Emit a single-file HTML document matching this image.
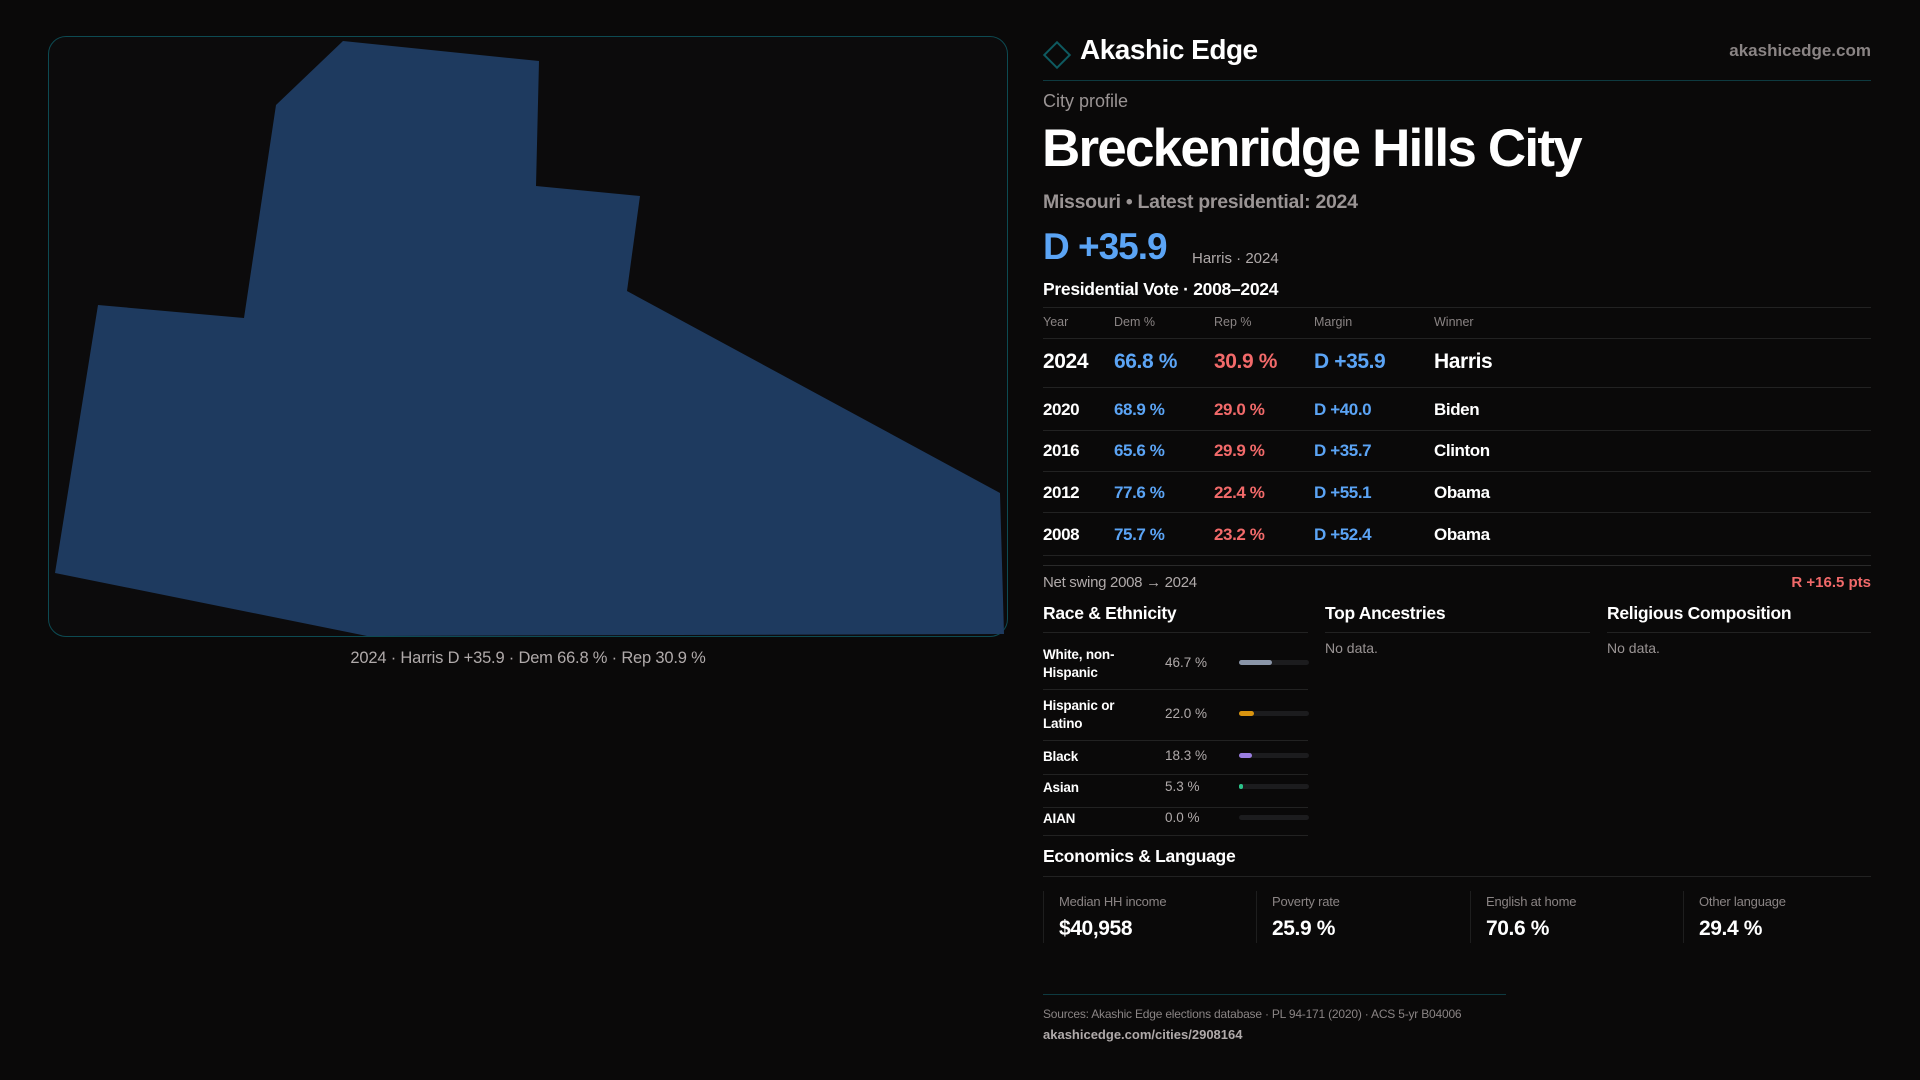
<!DOCTYPE html>
<html><head><meta charset="utf-8"><style>
*{margin:0;padding:0;box-sizing:border-box}
body{width:1920px;height:1080px;background:#0a0909;color:#fff;font-family:"Liberation Sans",sans-serif;position:relative;overflow:hidden}
.a{position:absolute;white-space:nowrap}
.g{color:#9a9494}.b{color:#5ba4f5}.r{color:#f26a6a}
.hl{position:absolute;height:1px;background:#222}
</style></head><body>
<div class="a" style="left:48px;top:36px;width:960px;height:601px;border:1px solid #0d4a52;border-radius:18px;background:#0c0b0c;overflow:hidden"></div>
<svg class="a" style="left:0;top:0" width="1010" height="640">
<polygon fill="#1e3a5f" points="343,41 539,61 536,186 640,196 627,291 1000,493 1004,634 367,636 55,573 98,305 244,318 276,105"/></svg>
<div class="a g" style="left:0;width:1056px;text-align:center;top:649px;font-size:16.5px;color:#b0aaaa;letter-spacing:-0.2px">2024 · Harris D +35.9 · Dem 66.8 % · Rep 30.9 %</div>

<div class="a" style="left:1047px;top:45px;width:20px;height:20px;border:2px solid #0e5a60;transform:rotate(45deg)"></div>
<div class="a" style="left:1080px;top:34px;font-size:28px;font-weight:bold;letter-spacing:-0.5px">Akashic Edge</div>
<div class="a g" style="right:49px;top:41px;font-size:17px;font-weight:bold;color:#8a8484">akashicedge.com</div>
<div class="hl" style="left:1043px;width:828px;top:80px;background:#0e3a40"></div>
<div class="a g" style="left:1043px;top:91px;font-size:18px">City profile</div>
<div class="a" style="left:1042px;top:118px;font-size:53px;font-weight:bold;letter-spacing:-1.8px">Breckenridge Hills City</div>
<div class="a g" style="left:1043px;top:191px;font-size:19.5px;font-weight:bold;letter-spacing:-0.3px">Missouri • Latest presidential: 2024</div>
<div class="a b" style="left:1043px;top:226px;font-size:37px;font-weight:bold;letter-spacing:-1px">D +35.9</div>
<div class="a g" style="left:1192px;top:250px;font-size:15px;color:#b0aaaa">Harris · 2024</div>
<div class="a" style="left:1043px;top:279px;font-size:17.5px;font-weight:bold;letter-spacing:-0.3px">Presidential Vote · 2008–2024</div>
<div class="hl" style="left:1043px;width:828px;top:307px"></div>
<div id="tbl"></div>
<div class="hl" style="left:1043px;width:828px;top:565px;background:#2a2a2a"></div>
<div class="a g" style="left:1043px;top:574px;font-size:15px;color:#b0aaaa;letter-spacing:-0.3px">Net swing 2008 → 2024</div>
<div class="a r" style="right:49px;top:574px;font-size:15px;font-weight:bold">R +16.5 pts</div>

<div class="a" style="left:1043px;top:603px;font-size:17.5px;font-weight:bold;letter-spacing:-0.3px">Race &amp; Ethnicity</div>
<div class="a" style="left:1325px;top:603px;font-size:17.5px;font-weight:bold;letter-spacing:-0.3px">Top Ancestries</div>
<div class="a" style="left:1607px;top:603px;font-size:17.5px;font-weight:bold;letter-spacing:-0.3px">Religious Composition</div>
<div class="hl" style="left:1043px;width:265px;top:632px"></div>
<div class="hl" style="left:1325px;width:265px;top:632px"></div>
<div class="hl" style="left:1607px;width:264px;top:632px"></div>
<div class="a g" style="left:1325px;top:640px;font-size:14px">No data.</div>
<div class="a g" style="left:1607px;top:640px;font-size:14px">No data.</div>
<div id="race"></div>

<div class="a" style="left:1043px;top:846px;font-size:17.5px;font-weight:bold;letter-spacing:-0.3px">Economics &amp; Language</div>
<div class="hl" style="left:1043px;width:828px;top:876px"></div>
<div id="stats"></div>
<div class="hl" style="left:1043px;width:463px;top:994px;background:#0e3a40"></div>
<div class="a g" style="left:1043px;top:1007px;font-size:12px;color:#8a8484;letter-spacing:-0.2px">Sources: Akashic Edge elections database · PL 94-171 (2020) · ACS 5-yr B04006</div>
<div class="a" style="left:1043px;top:1027px;font-size:13px;font-weight:bold;color:#b0aaaa">akashicedge.com/cities/2908164</div>
<script>
const years=["2024","2020","2016","2012","2008"];
const dem=[66.8,68.9,65.6,77.6,75.7];
const rep=[30.9,29.0,29.9,22.4,23.2];
const margins=[35.9,40.0,35.7,55.1,52.4];
const winners=["Harris","Biden","Clinton","Obama","Obama"];
const raceLabels=["White, non-Hispanic","Hispanic or Latino","Black","Asian","AIAN"];
const raceValues=[46.7,22.0,18.3,5.3,0.0];
const raceColors=["#8a95a8","#d9940f","#9a7ee0","#2bc48a","#555"];
const statLabels=["Median HH income","Poverty rate","English at home","Other language"];
const statValues=["$40,958","25.9 %","70.6 %","29.4 %"];
function mk(p,css,txt,cls){const d=document.createElement('div');d.className='a '+(cls||'');d.style.cssText=css;if(txt!=null)d.textContent=txt;p.appendChild(d);return d;}
const B=document.body;
const cols=[1043,1114,1214,1314,1434];
["Year","Dem %","Rep %","Margin","Winner"].forEach((h,i)=>{const e=mk(B,`left:${cols[i]}px;top:315px;font-size:12.5px;color:#8a8484`,h);

});
const hline=t=>{const l=document.createElement('div');l.className='hl';l.style.cssText=`left:1043px;width:828px;top:${t}px`;B.appendChild(l);};
hline(338);
const rowY=[350,400,441,483,525],lineY=[387,430,471,512,555];
years.forEach((y,i)=>{const fs=i==0?21:17,t=rowY[i];
const vals=[y,dem[i].toFixed(1)+" %",rep[i].toFixed(1)+" %","D +"+margins[i].toFixed(1),winners[i]];
const cl=["","b","r","b",""];
vals.forEach((v,j)=>{const e=mk(B,`left:${cols[j]}px;top:${t}px;font-size:${fs}px;font-weight:bold;letter-spacing:-0.4px`,v,cl[j]);

});
hline(lineY[i]);});
const rY=[663,714,756,787,818],rL=[689,740,774,807,835];
raceLabels.forEach((lab,i)=>{const two=lab.length>12;
const e=mk(B,`left:1043px;top:${rY[i]-(two?17:8)}px;font-size:13.5px;font-weight:bold;white-space:normal;width:95px;line-height:18px;letter-spacing:-0.2px`,lab);


const p=mk(B,`left:1165px;top:${rY[i]-8}px;font-size:13.5px;color:#b0aaaa`,raceValues[i].toFixed(1)+" %");


const tr=mk(B,`left:1239px;top:${rY[i]-3}px;width:70px;height:5px;border-radius:3px;background:#1c1c1e`);


const bar=mk(tr,`left:0;top:0;height:5px;border-radius:3px;width:${70*raceValues[i]/100}px;background:${raceColors[i]}`);


const l=document.createElement('div');l.className='hl';l.style.cssText=`left:1043px;width:265px;top:${rL[i]}px`;B.appendChild(l);});
const sx=[1043,1256,1470,1683];
statLabels.forEach((s,i)=>{const c=mk(B,`left:${sx[i]}px;top:891px;width:1px;height:52px;background:#1e1e1e`);


const a=mk(B,`left:${sx[i]+16}px;top:894px;font-size:13px;color:#8a8484;letter-spacing:-0.2px`,s);


const v=mk(B,`left:${sx[i]+16}px;top:917px;font-size:21px;font-weight:bold;letter-spacing:-0.4px`,statValues[i]);

});
</script>
</body></html>
